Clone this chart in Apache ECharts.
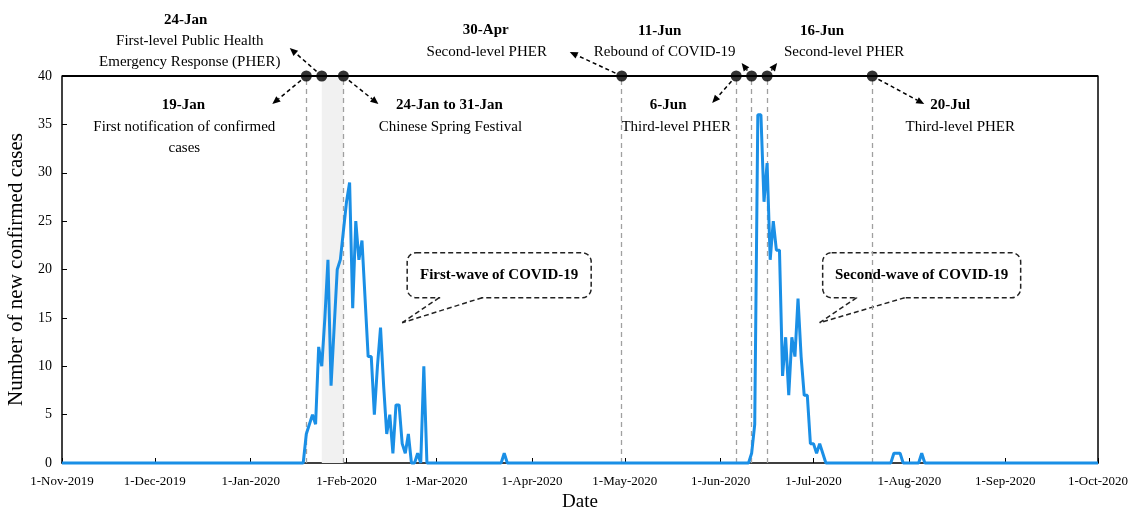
<!DOCTYPE html>
<html>
<head>
<meta charset="utf-8">
<script src="https://cdn.jsdelivr.net/npm/echarts@6/dist/echarts.min.js"></script>
<style>
html,body{margin:0;padding:0;background:#fff}
#main{width:1132px;height:513px}
</style>
</head>
<body>
<div id="main"></div>
<script>
// daily new confirmed cases (only days where the curve changes; zeros in between)
var caseDates = [
    '2019-11-01','2020-01-18','2020-01-19','2020-01-20','2020-01-21','2020-01-22','2020-01-23','2020-01-24',
    '2020-01-25','2020-01-26','2020-01-27','2020-01-28','2020-01-29','2020-01-30','2020-01-31','2020-02-01',
    '2020-02-02','2020-02-03','2020-02-04','2020-02-05','2020-02-06','2020-02-07','2020-02-08','2020-02-09',
    '2020-02-10','2020-02-11','2020-02-12','2020-02-13','2020-02-14','2020-02-15','2020-02-16','2020-02-17',
    '2020-02-18','2020-02-19','2020-02-20','2020-02-21','2020-02-22','2020-02-23','2020-02-24','2020-02-25',
    '2020-02-26','2020-02-27','2020-03-22','2020-03-23','2020-03-24',
    '2020-06-10','2020-06-11','2020-06-12','2020-06-13','2020-06-14','2020-06-15','2020-06-16','2020-06-17',
    '2020-06-18','2020-06-19','2020-06-20','2020-06-21','2020-06-22','2020-06-23','2020-06-24','2020-06-25',
    '2020-06-26','2020-06-27','2020-06-28','2020-06-29','2020-06-30','2020-07-01','2020-07-02','2020-07-03',
    '2020-07-04','2020-07-05','2020-07-26','2020-07-27','2020-07-28','2020-07-29','2020-07-30',
    '2020-08-04','2020-08-05','2020-08-06','2020-10-01'
];
var caseValues = [
    0,0,3,4,5,4,12,10,
    15,21,8,14,20,21,24,27,
    29,16,25,21,23,17,11,11,
    5,10,14,8,3,5,1,6,
    6,2,1,3,0,0,1,0,
    10,0,0,1,0,
    0,1,4,36,36,27,31,21,
    25,22,22,9,13,7,13,11,
    17,11,7,7,2,2,1,2,
    1,0,0,1,1,1,0,
    0,1,0,0
];

var yTicks = [0,5,10,15,20,25,30,35,40];

var eventDates  = ['2020-01-19','2020-01-24','2020-01-31','2020-04-30','2020-06-06','2020-06-11','2020-06-16','2020-07-20'];
var eventTitles = ['19-Jan','24-Jan','24-Jan to 31-Jan','30-Apr','6-Jun','11-Jun','16-Jun','20-Jul'];
var eventNotes  = [
    ['First notification of confirmed','cases'],
    ['First-level Public Health','Emergency Response (PHER)'],
    ['Chinese Spring Festival'],
    ['Second-level PHER'],
    ['Third-level PHER'],
    ['Rebound of COVID-19'],
    ['Second-level PHER'],
    ['Third-level PHER']
];
var guideDates = ['2020-01-19','2020-01-31','2020-04-30','2020-06-06','2020-06-11','2020-06-16','2020-07-20'];
var festival = ['2020-01-24','2020-01-31'];

var waveLabels = ['First-wave of COVID-19','Second-wave of COVID-19'];
var waveDates  = ['2020-02-19','2020-07-03'];
var waveValue  = 14.5;

// layout of the annotations, pixel offsets from the dot: arrow end, title x, note x, title y, note y
var eventLayout = [
    {ax:-34, ay:28,  tx:-123, nx:-122, ty:105, ny:127},
    {ax:-32, ay:-28, tx:-136, nx:-132, ty:20,  ny:41},
    {ax:35,  ay:28,  tx:106,  nx:107,  ty:105, ny:127},
    {ax:-52, ay:-24, tx:-136, nx:-135, ty:30,  ny:52},
    {ax:-24, ay:27,  tx:-68,  nx:-60,  ty:105, ny:127},
    {ax:-10, ay:-13, tx:-92,  nx:-87,  ty:31,  ny:52},
    {ax:10,  ay:-13, tx:55,   nx:77,   ty:31,  ny:52},
    {ax:52,  ay:28,  tx:78,   nx:88,   ty:105, ny:127}
];
var waveLayout = [
    {bx:5, bw:184, t1:37, t2:80},
    {bx:3, bw:198, t1:37, t2:85}
];

var serif = '"Liberation Serif", "Times New Roman", serif';
var months = ['Jan','Feb','Mar','Apr','May','Jun','Jul','Aug','Sep','Oct','Nov','Dec'];

var lineData = caseDates.map(function (d, i) { return [d, caseValues[i]]; });

var chart = echarts.init(document.getElementById('main'));
var option = {
    backgroundColor: '#fff',
    animation: false,
    grid: {left: 62, right: 34, top: 76, bottom: 50, outerBoundsMode: 'none'},
    xAxis: {
        type: 'time',
        min: '2019-11-01',
        max: '2020-10-01',
        minInterval: 28 * 86400000,
        maxInterval: 31 * 86400000,
        name: 'Date',
        nameLocation: 'middle',
        nameGap: 30,
        nameTextStyle: {fontFamily: serif, fontSize: 19, color: '#000'},
        axisLine: {lineStyle: {color: '#000', width: 1.5}},
        axisTick: {inside: true, length: 5, lineStyle: {color: '#000'}},
        splitLine: {show: false},
        axisLabel: {
            fontFamily: serif, fontSize: 13, color: '#000', margin: 12,
            showMinLabel: true, showMaxLabel: true, hideOverlap: false,
            formatter: function (v) {
                var d = new Date(v);
                return d.getDate() + '-' + months[d.getMonth()] + '-' + d.getFullYear();
            }
        }
    },
    yAxis: [{
        type: 'value',
        min: 0, max: 40, interval: 5,
        name: 'Number of new confirmed cases',
        nameLocation: 'middle',
        nameGap: 31,
        nameTextStyle: {fontFamily: serif, fontSize: 21, color: '#000'},
        axisLine: {show: true, lineStyle: {color: '#000', width: 1.5}},
        axisTick: {show: true, inside: true, length: 5, lineStyle: {color: '#000'}},
        splitLine: {show: false},
        axisLabel: {fontFamily: serif, fontSize: 14, color: '#000', margin: 10,
            formatter: function (v) { return yTicks.indexOf(v) >= 0 ? String(v) : ''; }}
    }, {
        type: 'value',
        position: 'right',
        min: 0, max: 40,
        axisLine: {show: true, lineStyle: {color: '#000', width: 1.5}},
        axisTick: {show: false},
        axisLabel: {show: false},
        splitLine: {show: false}
    }],
    series: [{
        type: 'line',
        data: lineData,
        showSymbol: false,
        clip: false,
        z: 5,
        lineStyle: {color: '#1a8fe6', width: 3},
        itemStyle: {color: '#1a8fe6'},
        markArea: {
            silent: true,
            itemStyle: {color: '#f1f1f1'},
            data: [[{xAxis: festival[0]}, {xAxis: festival[1]}]]
        },
        markLine: {
            silent: true,
            symbol: 'none',
            label: {show: false},
            lineStyle: {color: '#a0a0a0', type: [5, 4], width: 1.3},
            data: guideDates.map(function (d) { return {xAxis: d}; }).concat([{
                yAxis: 40,
                symbol: ['none', 'triangle'],
                symbolSize: [0, 9],
                lineStyle: {color: '#000', type: 'solid', width: 2}
            }])
        }
    }, {
        type: 'scatter',
        data: eventDates.map(function (d) { return [d, 40]; }),
        symbol: 'circle',
        symbolSize: 11,
        clip: false,
        z: 10,
        itemStyle: {color: '#000'},
        silent: true
    }]
};
chart.setOption(option);

function px(d, v) { return chart.convertToPixel({xAxisIndex: 0, yAxisIndex: 0}, [d, v]); }

function arrow(x1, y1, x2, y2) {
    var dx = x2 - x1, dy = y2 - y1, len = Math.sqrt(dx * dx + dy * dy);
    var ux = dx / len, uy = dy / len;
    var bx = x2 - ux * 8, by = y2 - uy * 8;
    return [{
        type: 'line', silent: true,
        shape: {x1: x1 + ux * 7, y1: y1 + uy * 7, x2: bx, y2: by},
        style: {stroke: '#000', lineWidth: 1.5, lineDash: [4, 3]}
    }, {
        type: 'polygon', silent: true,
        shape: {points: [[x2, y2], [bx - uy * 3.5, by + ux * 3.5], [bx + uy * 3.5, by - ux * 3.5]]},
        style: {fill: '#000'}
    }];
}

function text(str, x, y, bold) {
    return {
        type: 'text', silent: true, x: x, y: y,
        style: {text: str, fill: '#000', fontFamily: serif, fontSize: 15,
            fontWeight: bold ? 'bold' : 'normal', align: 'center', verticalAlign: 'middle',
            textAlign: 'center', textVerticalAlign: 'middle'}
    };
}

var g = [];
eventDates.forEach(function (d, i) {
    var p = px(d, 40), L = eventLayout[i];
    g = g.concat(arrow(p[0], p[1], p[0] + L.ax, p[1] + L.ay));
    g.push(text(eventTitles[i], p[0] + L.tx, L.ty, true));
    eventNotes[i].forEach(function (n, k) {
        g.push(text(n, p[0] + L.nx, L.ny + k * 21, false));
    });
});

waveLabels.forEach(function (lab, i) {
    var p = px(waveDates[i], waveValue), L = waveLayout[i];
    var top = p[1] - 70, h = 45, left = p[0] + L.bx;
    g.push({type: 'rect', silent: true, shape: {x: left, y: top, width: L.bw, height: h, r: 9},
        style: {fill: '#fff', stroke: '#222', lineWidth: 1.5, lineDash: [5, 3]}});
    g.push({type: 'rect', silent: true, shape: {x: p[0] + L.t1 + 1, y: top + h - 2, width: L.t2 - L.t1 - 2, height: 4},
        style: {fill: '#fff'}});
    [L.t1, L.t2].forEach(function (t) {
        g.push({type: 'line', silent: true,
            shape: {x1: p[0] + t, y1: top + h, x2: p[0], y2: p[1]},
            style: {stroke: '#222', lineWidth: 1.5, lineDash: [5, 3]}});
    });
    g.push(text(lab, left + L.bw / 2, top + h / 2, true));
});

chart.setOption({graphic: {elements: g}});
</script>
</body>
</html>
